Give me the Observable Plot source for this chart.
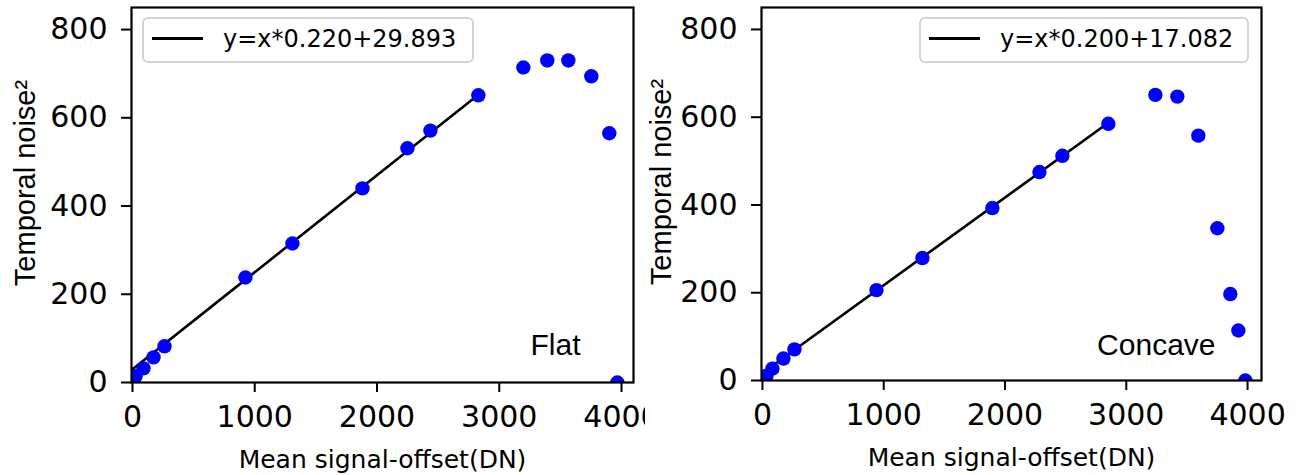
<!DOCTYPE html>
<html><head><meta charset="utf-8">
<script src="https://cdn.jsdelivr.net/npm/d3@7"></script>
<script src="https://cdn.jsdelivr.net/npm/@observablehq/plot@0.6"></script>
<style>
body{margin:0;background:#fff;}
#wrap{display:flex;width:1306px;height:475px;overflow:hidden;}
#wrap svg{display:block;}
</style></head><body><div id="wrap"></div>
<script>
// ---- data ----
const xTicks = [0, 1000, 2000, 3000, 4000];
const yTicks = [0, 200, 400, 600, 800];
const xTitle = "Mean signal-offset(DN)";
const yTitle = "Temporal noise²";
const panelNames = ["Flat", "Concave"];

const flatSignal = [25, 90, 172, 262, 924, 1308, 1881, 2249, 2437, 2829, 3197, 3393, 3565, 3753, 3900, 3966];
const flatNoise  = [14, 32, 57, 82, 238, 315, 440, 531, 571, 651, 714, 730, 730, 694, 565, 0];

const concaveSignal = [33, 82, 173, 264, 940, 1319, 1896, 2284, 2473, 2852, 3240, 3421, 3594, 3751, 3858, 3924, 3982];
const concaveNoise  = [11, 27, 50, 71, 206, 279, 393, 475, 512, 585, 651, 647, 558, 347, 197, 114, 0];

const fitSlopes = [0.220, 0.200];
const fitIntercepts = [29.893, 17.082];
const fitLastIndex = [9, 9]; // last point used by the linear fit

// ---- drawing ----
function panel(i, xs, ys, layout) {
  const pts = xs.map((x, k) => ({x, y: ys[k]}));
  const slope = fitSlopes[i], intercept = fitIntercepts[i];
  const xEnd = xs[fitLastIndex[i]];
  const fit = [{x: 0, y: intercept}, {x: xEnd, y: slope * xEnd + intercept}];
  const legendText = `y=x*${slope.toFixed(3)}+${intercept.toFixed(3)}`;

  const svg = Plot.plot({
    width: layout.width, height: 475,
    marginLeft: layout.marginLeft, marginRight: layout.marginRight,
    marginTop: 7, marginBottom: layout.marginBottom,
    x: {domain: layout.xDomain},
    y: {domain: [0, 850]},
    style: {fontFamily: "DejaVu Sans", background: "white", color: "black", overflow: "visible"},
    marks: [
      Plot.line(fit, {x: "x", y: "y", stroke: "black", strokeWidth: 2.6}),
      Plot.dot(pts, {x: "x", y: "y", r: 7.2, fill: "#0000ff", stroke: "none", clip: true}),
      Plot.frame({stroke: "black", strokeWidth: 2.2}),
      Plot.axisX({ticks: xTicks, tickSize: 10, tickPadding: 13, fontSize: 30, strokeWidth: 2, label: null, tickFormat: d => String(d)}),
      Plot.axisY({ticks: yTicks, tickSize: 10, tickPadding: 14, fontSize: 30, strokeWidth: 2, label: null, tickFormat: d => String(d)}),
      Plot.text([xTitle], {text: d => d, frameAnchor: "bottom", textAnchor: "middle", lineAnchor: "top", dy: 68, fontSize: 25}),
      Plot.text([yTitle], {text: d => d, frameAnchor: "left", textAnchor: "middle", lineAnchor: "middle", dx: layout.yTitleDx, dy: -12, rotate: -90, fontSize: 29, fontFamily: "Liberation Sans"}),
      Plot.text([panelNames[i]], {text: d => d, frameAnchor: "bottom-right", textAnchor: "end", lineAnchor: "top", dx: layout.nameDx, dy: layout.nameDy, fontSize: 30, fontFamily: "Liberation Sans"})
    ]
  });

  const g = d3.select(svg).append("g").attr("text-anchor", "start");
  const L = layout.legend;
  g.append("rect").attr("x", L.x).attr("y", 18).attr("width", L.w).attr("height", 44)
    .attr("rx", 5).attr("fill", "white").attr("fill-opacity", 0.8)
    .attr("stroke", "#d4d4d4").attr("stroke-width", 2);
  g.append("line").attr("x1", L.x + 9).attr("x2", L.x + 60).attr("y1", 38.5).attr("y2", 38.5)
    .attr("stroke", "black").attr("stroke-width", 2.8);
  g.append("text").attr("x", L.x + 80).attr("y", 47).attr("font-size", 24)
    .attr("text-anchor", "start")
    .attr("font-family", "DejaVu Sans").attr("fill", "black").text(legendText);
  return svg;
}

const wrap = document.getElementById("wrap");
wrap.appendChild(panel(0, flatSignal, flatNoise, {
  width: 645, marginLeft: 131, marginRight: 12, marginBottom: 93,
  xDomain: [-8, 4098], yTitleDx: -106, nameDx: -53, nameDy: -49,
  legend: {x: 143, w: 330}
}));
wrap.appendChild(panel(1, concaveSignal, concaveNoise, {
  width: 661, marginLeft: 116, marginRight: 45, marginBottom: 95,
  xDomain: [-8, 4115], yTitleDx: -100, nameDx: -46, nameDy: -47,
  legend: {x: 275, w: 328}
}));
</script>
</body></html>
